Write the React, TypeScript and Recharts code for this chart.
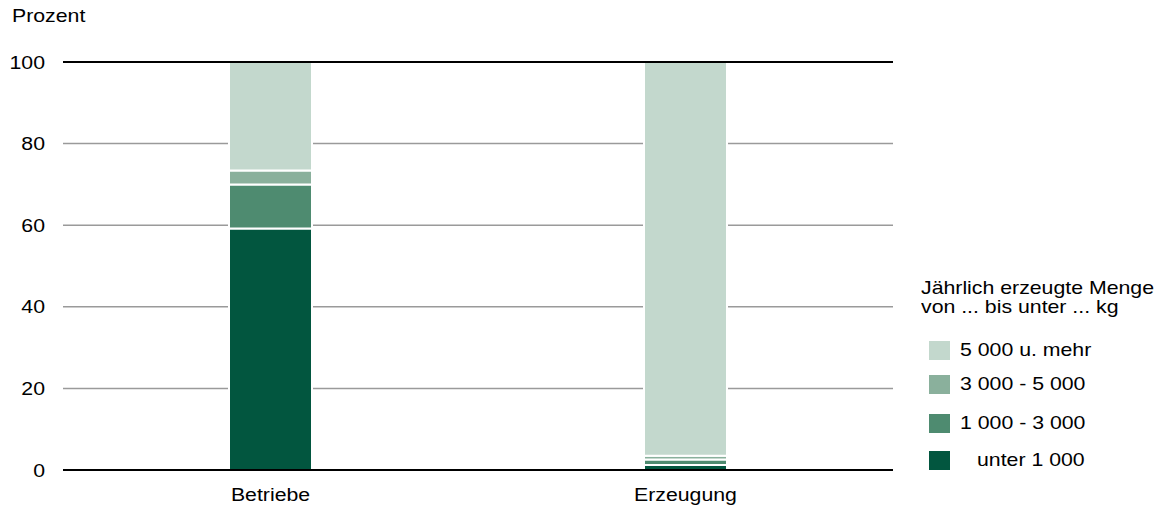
import { Bar, BarChart, CartesianGrid, Legend, ReferenceLine, XAxis, YAxis } from "recharts";

const categories = ["Betriebe", "Erzeugung"];
const unter1000 = [59.2, 1.2];
const von1000bis3000 = [10.8, 1.4];
const von3000bis5000 = [3.4, 0.9];
const ab5000 = [26.6, 96.5];
const yTicks = [0, 20, 40, 60, 80, 100];

const series = [
  { key: "u1000", name: "unter 1 000", values: unter1000, color: "#02563f" },
  { key: "u3000", name: "1 000 - 3 000", values: von1000bis3000, color: "#4e8b70" },
  { key: "u5000", name: "3 000 - 5 000", values: von3000bis5000, color: "#8ab09c" },
  { key: "mehr", name: "5 000 u. mehr", values: ab5000, color: "#c3d8cd" },
];

const data = categories.map((name, i) => {
  const row: Record<string, string | number> = { name };
  series.forEach((s) => (row[s.key] = s.values[i]));
  return row;
});

const FONT = "'Liberation Sans', Arial, sans-serif";
const FS = 18.5;
const SX = 1.15;

const YTick = (props: any) => {
  const { x, y, payload } = props;
  return (
    <text
      transform={`translate(${x},${y}) scale(${SX},1)`}
      textAnchor="end"
      dy="0.355em"
      fontSize={FS}
      fontFamily={FONT}
      fill="#000"
    >
      {payload.value}
    </text>
  );
};

const XTick = (props: any) => {
  const { x, y, payload } = props;
  return (
    <text
      transform={`translate(${x},${y}) scale(${SX},1)`}
      textAnchor="middle"
      dy="0.71em"
      fontSize={FS}
      fontFamily={FONT}
      fill="#000"
    >
      {payload.value}
    </text>
  );
};

const legendTops = [340, 374, 413, 450];

const txt = (s: string) => (
  <span style={{ display: "inline-block", transform: `scaleX(${SX})`, transformOrigin: "left", whiteSpace: "nowrap" }}>{s}</span>
);

const LegendBox = () => {
  const items = [...series].reverse();
  return (
    <div style={{ position: "absolute", left: 0, top: 0, width: 1173, height: 513, pointerEvents: "none", fontFamily: FONT, fontSize: FS, color: "#000" }}>
      <div style={{ position: "absolute", left: 921, top: 278, lineHeight: "19px" }}>
        <div>{txt("Jährlich erzeugte Menge")}</div>
        <div>{txt("von ... bis unter ... kg")}</div>
      </div>
      {items.map((s, i) => (
        <div key={s.key} style={{ position: "absolute", left: 929, top: legendTops[i], height: 20, display: "flex", alignItems: "center" }}>
          <div style={{ width: 21, height: 19, background: s.color }} />
          <div style={{ marginLeft: s.key === "u1000" ? 27 : 10, lineHeight: "20px" }}>{txt(s.name)}</div>
        </div>
      ))}
    </div>
  );
};

export default function App() {
  return (
    <div style={{ position: "absolute", left: 0, top: 0, width: 1173, height: 513, background: "#fff", fontFamily: FONT }}>
      <div style={{ position: "absolute", left: 12, top: 6, fontSize: FS, lineHeight: "20px" }}>{txt("Prozent")}</div>
      <BarChart width={1173} height={513} data={data} margin={{ top: 62, right: 280, bottom: 0, left: 0 }}>
        <CartesianGrid vertical={false} stroke="#9a9a9a" strokeWidth={1.5} />
        <XAxis
          dataKey="name"
          height={43}
          axisLine={{ stroke: "#000", strokeWidth: 2 }}
          tickLine={false}
          tickMargin={12}
          tick={<XTick />}
        />
        <YAxis
          width={63}
          domain={[0, 100]}
          ticks={yTicks}
          axisLine={false}
          tickLine={false}
          tickMargin={12}
          tick={<YTick />}
        />
        <ReferenceLine y={100} stroke="#000" strokeWidth={2} />
        {series.map((s) => (
          <Bar
            key={s.key}
            dataKey={s.key}
            name={s.name}
            stackId="a"
            fill={s.color}
            stroke="#fff"
            strokeWidth={2}
            barSize={83}
            isAnimationActive={false}
          />
        ))}
        <Legend content={() => <LegendBox />} wrapperStyle={{ position: "absolute", left: 0, top: 0, width: 0, height: 0 }} />
      </BarChart>
    </div>
  );
}
